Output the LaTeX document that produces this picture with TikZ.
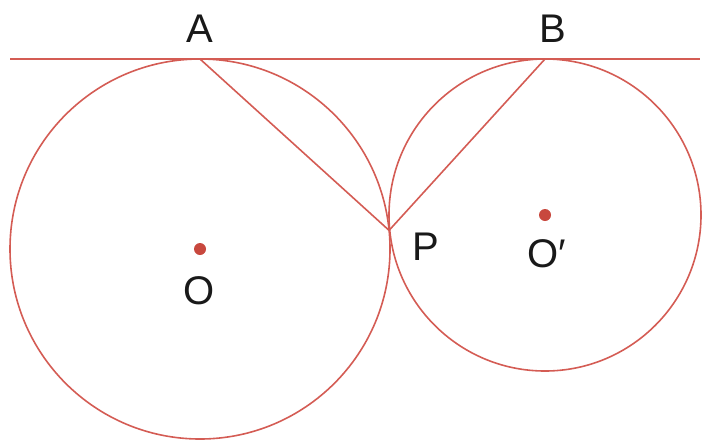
\documentclass[tikz,border=0pt]{standalone}
\usepackage{fontspec}
\setmainfont{Liberation Sans}
\usetikzlibrary{calc}
\definecolor{geo}{RGB}{212,92,84}
\definecolor{dotc}{RGB}{200,72,62}
\definecolor{lab}{RGB}{25,25,25}
\begin{document}
\begin{tikzpicture}[x=1pt,y=-1pt,
  geoline/.style={draw=geo,line width=1.6pt},
  ptdot/.style={fill=dotc},
  lbl/.style={text=lab,font=\fontsize{40}{40}\selectfont,inner sep=0pt}]
\useasboundingbox (0,0) rectangle (703,442);
\coordinate (O) at (200,249);
\coordinate (Op) at (545,215);
\coordinate (A) at (200,59);
\coordinate (B) at (545,59);
\coordinate (L1) at (10,59);
\coordinate (L2) at (700,59);
\coordinate (P) at ($(O)!0.548!(Op)$);
\draw[geoline] (O) circle[radius=190pt];
\draw[geoline] (Op) circle[radius=156pt];
\draw[geoline] (L1) -- (L2);
\draw[geoline] (A) -- (P) -- (B);
\fill[ptdot] (O) circle[radius=6pt];
\fill[ptdot] (Op) circle[radius=6pt];
\node[lbl] (lA) at (200,29) {A};
\node[lbl] (lB) at (553,29) {B};
\node[lbl] (lP) at (426,247) {P};
\node[lbl] (lO) at (199,291) {O};
\node[lbl] (lOp) at (547,254) {O′};
\end{tikzpicture}
\end{document}
